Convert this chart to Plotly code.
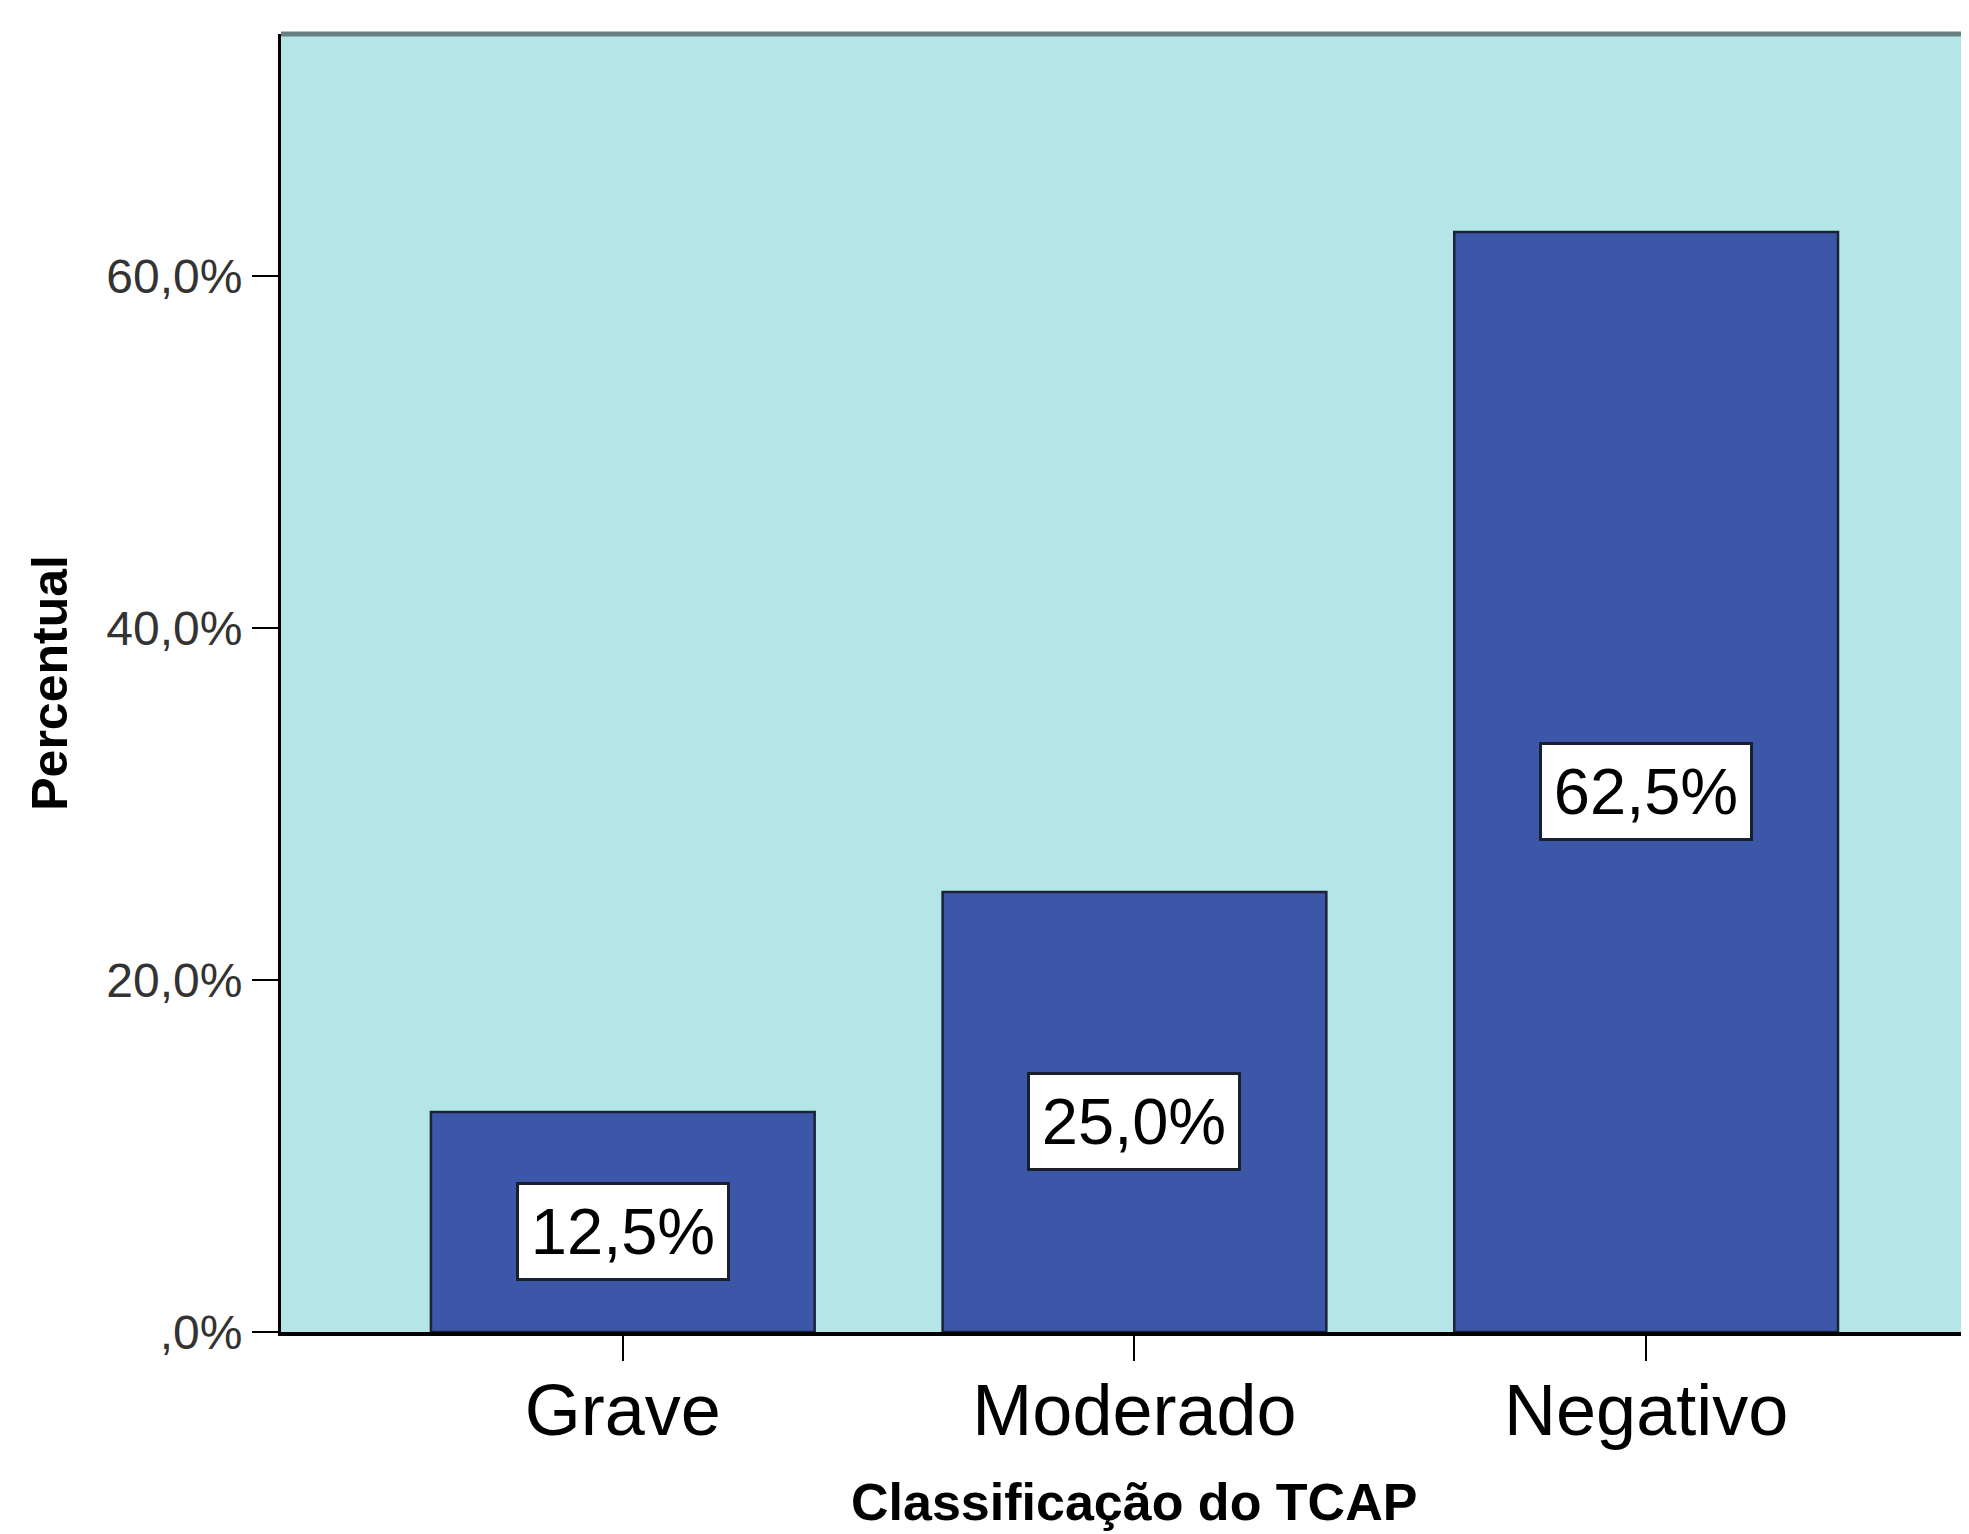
import plotly.graph_objects as go

categories = ["Grave", "Moderado", "Negativo"]
percent_values = [12.5, 25.0, 62.5]
value_labels = ["12,5%", "25,0%", "62,5%"]
y_tick_values = [0, 20, 40, 60]
y_tick_labels = [",0%", "20,0%", "40,0%", "60,0%"]
x_title = "Classificação do TCAP"
y_title = "Percentual"

FONT = "Liberation Sans, Arial, sans-serif"
BAR_COLOR = "#3D57A8"
BG_COLOR = "#B5E6E7"

fig = go.Figure()
fig.add_trace(go.Bar(
    x=categories,
    y=percent_values,
    width=0.75,
    marker=dict(color=BAR_COLOR, line=dict(color="#1c2238", width=2.5)),
    hoverinfo="skip",
    showlegend=False,
))

for cat, val, lab in zip(categories, percent_values, value_labels):
    fig.add_annotation(
        x=cat, y=val / 2, xref="x", yref="y",
        text=lab, showarrow=False,
        font=dict(family=FONT, size=65, color="black"),
        bgcolor="white", bordercolor="#1a1f30", borderwidth=3, borderpad=9,
        width=190, height=75, align="center", valign="middle",
        yanchor="middle", xanchor="center", yshift=-9,
    )

# axis titles
fig.add_annotation(
    x=categories[1], xref="x", y=-0.131, yref="paper",
    text=x_title, showarrow=False, yanchor="middle", xanchor="center",
    font=dict(family=FONT, size=52, color="black", weight="bold"),
)
fig.add_annotation(
    x=-0.137, xref="paper", y=0.5, yref="paper",
    text=y_title, showarrow=False, textangle=-90, yanchor="middle", xanchor="center",
    font=dict(family=FONT, size=50, color="black", weight="bold"),
)

# top border of plot area
fig.add_shape(type="line", xref="paper", yref="paper", x0=0, x1=1, y0=1, y1=1,
              line=dict(color="#6a8080", width=5), layer="above")

fig.update_layout(
    width=1961, height=1526,
    margin=dict(l=273, r=0, t=26, b=202),
    paper_bgcolor="white",
    plot_bgcolor=BG_COLOR,
    font=dict(family=FONT, color="black"),
    xaxis=dict(
        type="category",
        range=[-0.668, 2.631],
        showgrid=False, zeroline=False,
        showline=True, linecolor="black", linewidth=4,
        ticks="outside", ticklen=25, tickwidth=2, tickcolor="black",
        ticklabelstandoff=-12,
        tickfont=dict(family=FONT, size=72, color="black"),
    ),
    yaxis=dict(
        range=[0, 73.75],
        tickvals=y_tick_values, ticktext=y_tick_labels,
        showgrid=False, zeroline=False,
        showline=True, linecolor="black", linewidth=3,
        ticks="outside", ticklen=26, tickwidth=2, tickcolor="black",
        tickfont=dict(family=FONT, size=48, color="#333333"),
    ),
)

fig.write_html("out.html")
